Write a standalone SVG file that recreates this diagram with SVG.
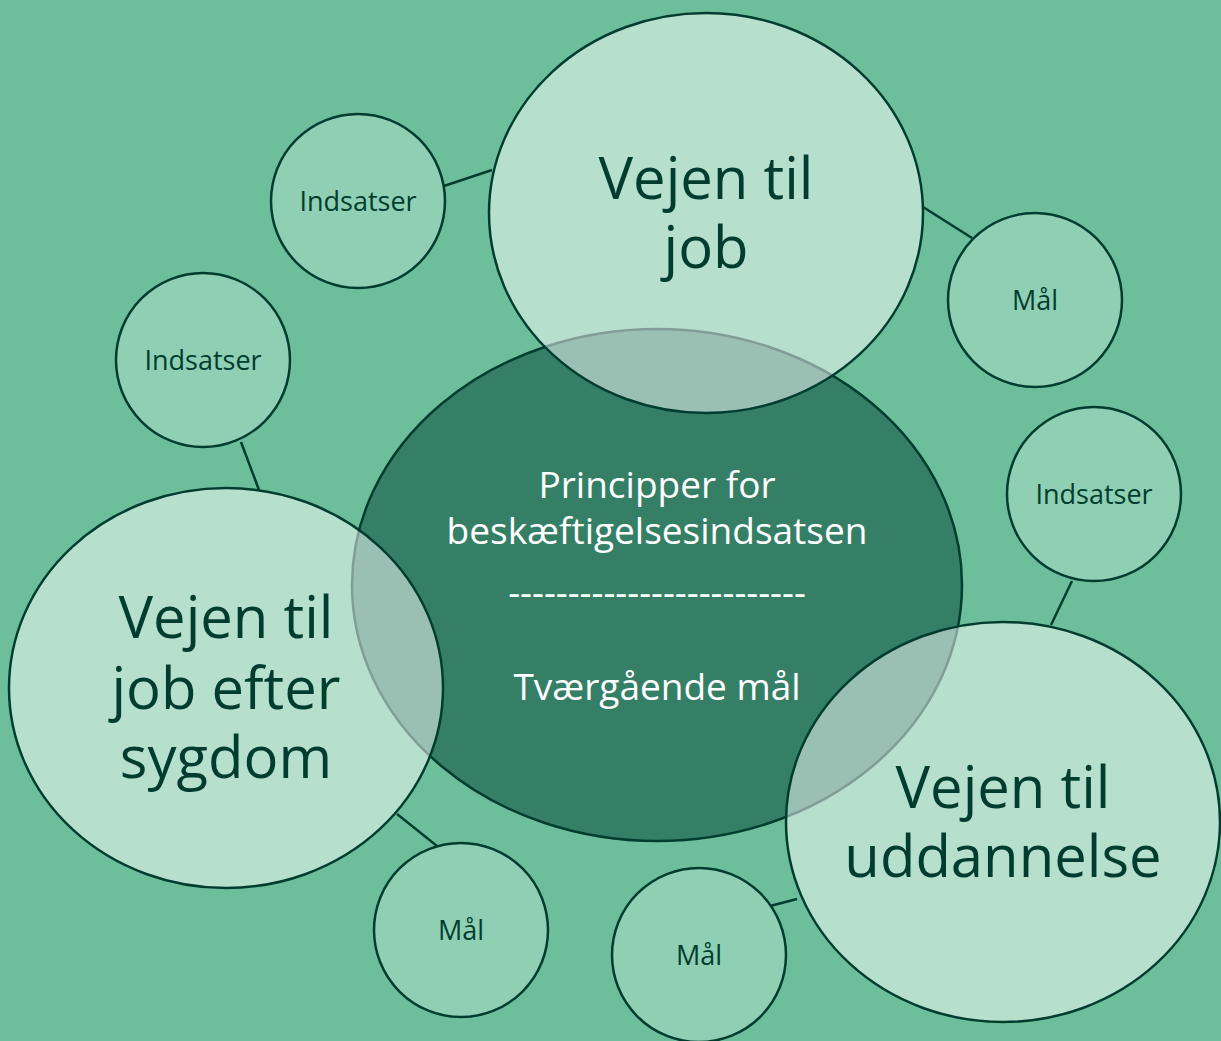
<svg xmlns="http://www.w3.org/2000/svg" width="1221" height="1041" viewBox="0 0 1221 1041">
<style>
.bg{fill:#6dbf9c}
.center{fill:#357f67;stroke:#003d2e;stroke-width:2.5}
.big{fill:#ffffff;fill-opacity:0.5;stroke:#003d2e;stroke-width:2.5}
.small{fill:#8fcfb4;stroke:#003d2e;stroke-width:2.5}
.conn{stroke:#003d2e;stroke-width:2.5;fill:none}
text{font-family:"Open Sans","Noto Sans","Liberation Sans",sans-serif;text-anchor:middle}
.bt{font-size:58px;fill:#003d2e}
.st{font-size:27px;fill:#003d2e}
.ct{font-size:37px;fill:#ffffff}
</style>
<rect class="bg" x="0" y="0" width="1221" height="1041"/>
<g id="connectors">
<line class="conn" x1="444" y1="186" x2="492" y2="170"/>
<line class="conn" x1="923" y1="207" x2="972" y2="238"/>
<line class="conn" x1="241" y1="442" x2="259" y2="490"/>
<line class="conn" x1="1072" y1="581" x2="1051" y2="625"/>
<line class="conn" x1="397" y1="814" x2="437" y2="846"/>
<line class="conn" x1="770" y1="906" x2="797" y2="899"/>
</g>
<g id="principper">
<ellipse class="center" cx="657" cy="585" rx="305" ry="256"/>
<text class="ct" x="657" y="498">Principper for</text>
<text class="ct" x="657" y="544">beskæftigelsesindsatsen</text>
<text class="ct" x="657" y="606">-------------------------</text>
<text class="ct" x="657" y="700">Tværgående mål</text>
</g>
<g id="vejen-job">
<ellipse class="big" cx="706" cy="213" rx="217" ry="200"/>
<text class="bt" x="706" y="199">Vejen til</text>
<text class="bt" x="706" y="268">job</text>
</g>
<g id="vejen-sygdom">
<ellipse class="big" cx="226" cy="688" rx="217" ry="200"/>
<text class="bt" x="226" y="638">Vejen til</text>
<text class="bt" x="226" y="709">job efter</text>
<text class="bt" x="226" y="778">sygdom</text>
</g>
<g id="vejen-uddannelse">
<ellipse class="big" cx="1003" cy="822" rx="217" ry="200"/>
<text class="bt" x="1003" y="808">Vejen til</text>
<text class="bt" x="1003" y="877">uddannelse</text>
</g>
<g id="indsatser-job">
<circle class="small" cx="358" cy="201" r="87"/>
<text class="st" x="358" y="211">Indsatser</text>
</g>
<g id="maal-job">
<circle class="small" cx="1035" cy="300" r="87"/>
<text class="st" x="1035" y="310">Mål</text>
</g>
<g id="indsatser-sygdom">
<circle class="small" cx="203" cy="360" r="87"/>
<text class="st" x="203" y="370">Indsatser</text>
</g>
<g id="maal-sygdom">
<circle class="small" cx="461" cy="930" r="87"/>
<text class="st" x="461" y="940">Mål</text>
</g>
<g id="indsatser-uddannelse">
<circle class="small" cx="1094" cy="494" r="87"/>
<text class="st" x="1094" y="504">Indsatser</text>
</g>
<g id="maal-uddannelse">
<circle class="small" cx="699" cy="955" r="87"/>
<text class="st" x="699" y="965">Mål</text>
</g>
</svg>
